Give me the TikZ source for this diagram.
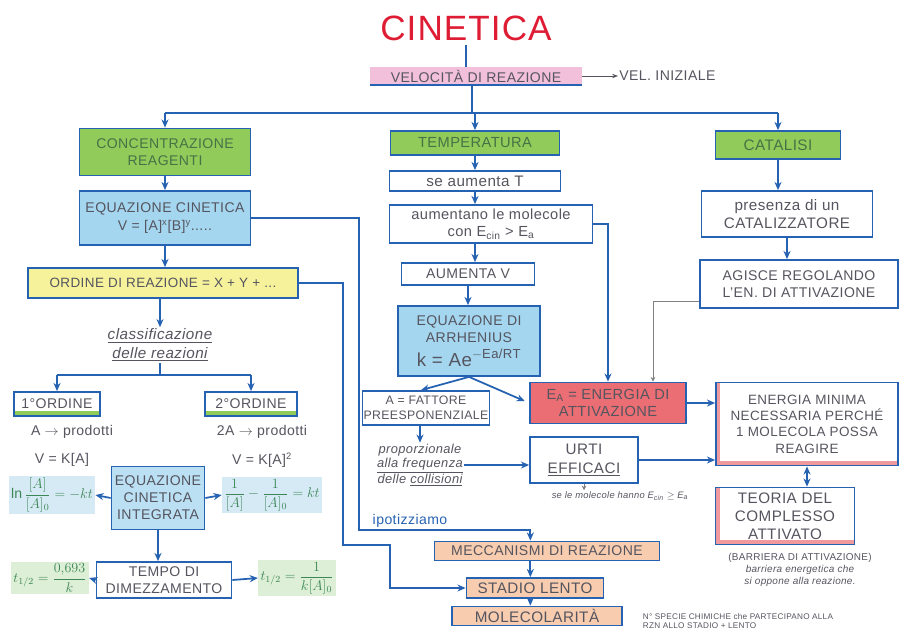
\documentclass[tikz,border=0pt]{standalone}
\usepackage{fontspec}
\setmainfont{Liberation Sans}[LetterSpace=3]
\usepackage{amsmath}
\definecolor{penblue}{RGB}{38,98,178}
\definecolor{inkgray}{RGB}{85,85,95}
\definecolor{inkgreen}{RGB}{70,115,70}
\definecolor{titlered}{RGB}{222,28,52}
\definecolor{mkgreen}{RGB}{145,203,90}
\definecolor{mkblue}{RGB}{165,214,240}
\definecolor{mkyellow}{RGB}{246,241,155}
\definecolor{mkpink}{RGB}{242,192,218}
\definecolor{mkred}{RGB}{234,110,115}
\definecolor{mkorange}{RGB}{247,204,175}
\definecolor{frmgreen}{RGB}{60,135,85}
\definecolor{hlblue}{RGB}{214,234,246}
\definecolor{hlgreen}{RGB}{221,239,214}
\usetikzlibrary{arrows.meta,positioning,calc}

\begin{document}
\begin{tikzpicture}[x=0.3mm, y=-0.3mm,
    box/.style={draw=penblue, line width=1.5pt, inner sep=1pt, align=center, text=inkgray, font=\fontsize{12}{14.5}\selectfont},
    greenbox/.style={box, fill=mkgreen, text=inkgreen},
    bluebox/.style={box, fill=mkblue},
    orangebox/.style={box, fill=mkorange},
    ordbox/.style={box, path picture={\fill[mkgreen] (path picture bounding box.south west) rectangle ([yshift=1.4mm]path picture bounding box.south east);}},
    redbox/.style={box, path picture={\fill[mkred!70] (path picture bounding box.south west) rectangle ([yshift=1.5mm]path picture bounding box.south east);
      \fill[mkred!70] (path picture bounding box.south west) rectangle ([xshift=1.2mm]path picture bounding box.north west);}},
    note/.style={text=inkgray, align=center, inner sep=1pt, font=\fontsize{12}{14.5}\selectfont},
    formula/.style={text=frmgreen, inner sep=2pt, font=\fontsize{12}{14}\selectfont},
    arr/.style={draw=penblue, line width=1.5pt, -{Stealth[length=7pt,width=6pt]}},
    line/.style={draw=penblue, line width=1.5pt},
    thinarr/.style={draw=gray, line width=0.5pt, -{Stealth[length=4pt,width=4pt]}}]
  \useasboundingbox (0,0) rectangle (900,633);

  % titolo
  \node[font=\fontsize{30}{32}\selectfont, text=titlered] (title) at (466,28) {CINETICA};
  \node[fill=mkpink, inner sep=2pt, minimum width=63.6mm, text=inkgray, font=\fontsize{12}{14}\selectfont] (vel) at (476,76) {VELOCITÀ DI REAZIONE};
  \node[note, anchor=west] (vin) at (618,76) {VEL. INIZIALE};
  \draw[line] (title.south) -- (title.south |- vel.north);
  \draw[line] (vel.south west) -- (vel.south east);
  \draw[draw=inkgray, line width=0.8pt, -{Stealth[length=5pt]}] (vel.east) -- (vin.west);

  % colonna sinistra
  \node[greenbox, minimum width=51.3mm, minimum height=14.1mm] (conc) at (165,152) {CONCENTRAZIONE\\REAGENTI};
  \node[bluebox, minimum width=51.3mm, minimum height=16.2mm, font=\fontsize{12}{15}\selectfont] (eqcin) at (165,218) {EQUAZIONE CINETICA\\V = [A]\textsuperscript{x}[B]\textsuperscript{y}.....};
  \node[box, fill=mkyellow, minimum width=81mm, minimum height=9mm, font=\fontsize{11.5}{14}\selectfont] (ordine) at (163,283) {ORDINE DI REAZIONE = X + Y + ...};
  \node[note, font=\itshape\fontsize{13}{16}\selectfont] (classif) at (160,345) {\underline{classificazione}\\\underline{delle reazioni}};
  \node[ordbox, minimum width=25.8mm, minimum height=7.2mm] (ord1) at (57,404) {1°ORDINE};
  \node[ordbox, minimum width=27.6mm, minimum height=7.2mm] (ord2) at (251,404) {2°ORDINE};
  \node[note] (p1) at (72,432) {A $\rightarrow$ prodotti};
  \node[note] (v1) at (62,460) {V = K[A]};
  \node[note] (p2) at (262,432) {2A $\rightarrow$ prodotti};
  \node[note] (v2) at (262,460) {V = K[A]\textsuperscript{2}};
  \node[bluebox, fill=mkblue!75, minimum width=27.9mm, minimum height=18.9mm] (integ) at (158,498) {EQUAZIONE\\CINETICA\\INTEGRATA};
  \node[formula, fill=hlblue] (lnf) at (52,495) {$\ln\dfrac{[A]}{[A]_0}=-kt$};
  \node[formula, fill=hlblue] (inv) at (272,495) {$\dfrac{1}{[A]}-\dfrac{1}{[A]_0}=kt$};
  \node[box, minimum width=40.5mm, minimum height=10.8mm] (tempo) at (164,580) {TEMPO DI\\DIMEZZAMENTO};
  \node[formula, fill=hlgreen] (th1) at (50,578) {$t_{1/2}=\dfrac{0{,}693}{k}$};
  \node[formula, fill=hlgreen] (th2) at (297,578) {$t_{1/2}=\dfrac{1}{k[A]_0}$};

  % colonna centrale
  \node[greenbox, minimum width=50.7mm, minimum height=7.2mm, font=\fontsize{12.5}{14}\selectfont] (temp) at (475,143) {TEMPERATURA};
  \node[box, minimum width=51.3mm, minimum height=6mm, font=\fontsize{13}{15}\selectfont] (seaum) at (475,181) {se aumenta T};
  \node[box, minimum width=60.9mm, minimum height=11.4mm, font=\fontsize{12.5}{14.5}\selectfont] (molec) at (491,224) {aumentano le molecole\\con E\textsubscript{cin} > E\textsubscript{a}};
  \node[box, minimum width=39.9mm, minimum height=6.6mm] (aumv) at (468,274) {AUMENTA V};
  \node[bluebox, minimum width=42.6mm, minimum height=21mm] (arrh) at (469,341) {EQUAZIONE DI\\ARRHENIUS\\[5pt]{\fontsize{16}{18}\selectfont k = Ae\textsuperscript{$-$Ea/RT}}};
  \node[box, minimum width=36.9mm, minimum height=10.2mm, font=\fontsize{10.5}{12.5}\selectfont] (fattore) at (426,408) {A = FATTORE\\PREESPONENZIALE};
  \node[note, font=\itshape\fontsize{11}{12}\selectfont] (prop) at (420,465) {proporzionale\\\underline{alla frequenza}\\delle \underline{collisioni}};
  \node[box, minimum width=32.4mm, minimum height=13.8mm, font=\fontsize{13}{16}\selectfont] (urti) at (584,460) {URTI\\\underline{EFFICACI}};
  \node[note, font=\itshape\fontsize{8}{9}\selectfont] (molnote) at (620,496) {se le molecole hanno E\textsubscript{cin} $\geq$ E\textsubscript{a}};
  \node[box, fill=mkred, minimum width=46.8mm, minimum height=12.3mm, font=\fontsize{12.5}{14.5}\selectfont] (ea) at (608,403) {E\textsubscript{A} = ENERGIA DI\\ATTIVAZIONE};

  % colonna destra
  \node[greenbox, minimum width=37.5mm, minimum height=8.4mm, font=\fontsize{13}{15}\selectfont] (catal) at (778,145) {CATALISI};
  \node[box, minimum width=51.3mm, minimum height=13.8mm, font=\fontsize{13}{15}\selectfont] (pres) at (787,214) {presenza di un\\CATALIZZATORE};
  \node[box, minimum width=59.4mm, minimum height=14.4mm] (agisce) at (799,284) {AGISCE REGOLANDO\\L'EN. DI ATTIVAZIONE};
  \node[redbox, minimum width=54.6mm, minimum height=24.9mm, font=\fontsize{11.5}{14}\selectfont] (enmin) at (807,424) {ENERGIA MINIMA\\NECESSARIA PERCHÉ\\1 MOLECOLA POSSA\\REAGIRE};
  \node[redbox, minimum width=41.7mm, minimum height=17.1mm, font=\fontsize{13}{15.5}\selectfont] (teoria) at (785,516) {TEORIA DEL\\COMPLESSO\\ATTIVATO};
  \node[note, font=\fontsize{8.5}{10}\selectfont] (barr) at (800,570) {(BARRIERA DI ATTIVAZIONE)\\\itshape barriera energetica che\\\itshape si oppone alla reazione.};

  % in basso
  \node[note, text=penblue, font=\fontsize{12}{14}\selectfont] (ipot) at (410,521) {ipotizziamo};
  \node[orangebox, minimum width=67.5mm, minimum height=5.7mm] (mecc) at (547,551) {MECCANISMI DI REAZIONE};
  \node[orangebox, minimum width=41.1mm, minimum height=6mm, font=\fontsize{13}{15}\selectfont] (stadio) at (535,588) {STADIO LENTO};
  \node[orangebox, minimum width=51mm, minimum height=5.7mm, font=\fontsize{13}{15}\selectfont] (molar) at (537,616) {MOLECOLARITÀ};
  \node[note, align=left, font=\fontsize{7}{8}\selectfont] (specie) at (738,621) {N° SPECIE CHIMICHE che PARTECIPANO ALLA\\RZN ALLO STADIO + LENTO};

  % collegamenti
  \coordinate (bar) at (472,113);
  \draw[line] (vel.south -| bar) -- (bar);
  \draw[line] (conc.north |- bar) -- (catal.north |- bar);
  \draw[arr] (conc.north |- bar) -- (conc.north);
  \draw[arr] (temp.north |- bar) -- (temp.north);
  \draw[arr] (catal.north |- bar) -- (catal.north);

  \draw[arr] (conc.south) -- (eqcin.north);
  \draw[arr] (eqcin.south) -- (eqcin.south |- ordine.north);
  \draw[arr] (ordine.south -| classif) -- (classif.north);
  \draw[line] (classif.south) -- ++(0,12) coordinate (br);
  \draw[line] (ord1.north |- br) -- (ord2.north |- br);
  \draw[arr] (ord1.north |- br) -- (ord1.north);
  \draw[arr] (ord2.north |- br) -- (ord2.north);
  \draw[arr] (integ.west) -- (lnf.east);
  \draw[arr] (integ.east) -- (inv.west);
  \draw[arr] (integ.south) -- (integ.south |- tempo.north);
  \draw[arr] (tempo.west) -- (th1.east);
  \draw[arr] (tempo.east) -- (th2.west);

  \draw[arr] (temp.south) -- (seaum.north);
  \draw[arr] (seaum.south) -- (seaum.south |- molec.north);
  \draw[arr] (seaum.south |- molec.south) -- (seaum.south |- aumv.north);
  \draw[arr] (aumv.south) -- (aumv.south |- arrh.north);
  \draw[arr] (arrh.south) -- ([xshift=-1.5mm]fattore.north);
  \draw[arr, shorten >=4pt] (arrh.south) -- (ea.west);
  \draw[arr] (fattore.south -| prop) -- (prop.north);
  \draw[arr] (prop.east) -- (prop.east -| urti.west);
  \draw[thinarr] (urti.south) -- (urti.south |- molnote.north);
  \draw[arr] (molec.east) -| (ea.north);
  \draw[arr] (ea.east) -- (ea.east -| enmin.west);
  \draw[arr] (urti.east) -- (urti.east -| enmin.west);

  \draw[arr] (catal.south) -- (catal.south |- pres.north);
  \draw[arr] (pres.south) -- (pres.south |- agisce.north);
  \draw[thinarr] ([yshift=2.4mm]agisce.south west) -| ([xshift=13.5mm]ea.north);
  \draw[arr, {Stealth[length=7pt,width=6pt]}-{Stealth[length=7pt,width=6pt]}] (enmin.south) -- (enmin.south |- teoria.north);

  \draw[arr] (eqcin.east) -| (359,530) -| ([xshift=-5mm]mecc.north);
  \draw[arr] (ordine.east) -| (343,545) -| (390,588) -- (stadio.west);
  \draw[arr] ([xshift=-5mm]mecc.south) -- ([xshift=-5mm]mecc.south |- stadio.north);
  \draw[arr] ([xshift=-5mm]mecc.south |- stadio.south) -- ([xshift=-5mm]mecc.south |- molar.north);
\end{tikzpicture}
\end{document}
